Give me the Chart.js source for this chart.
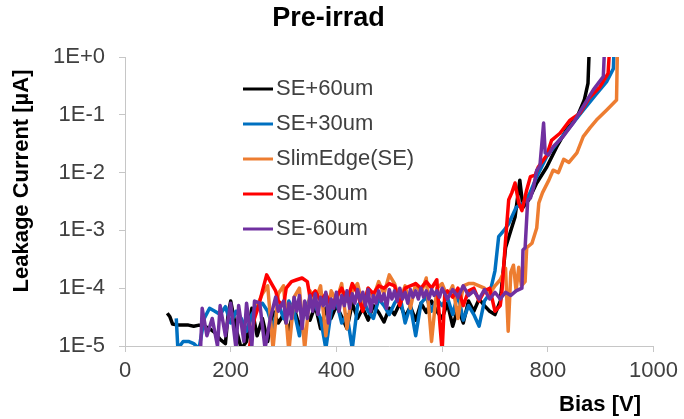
<!DOCTYPE html>
<html lang="en">
<head>
    <meta charset="UTF-8">
    <script src="https://cdn.jsdelivr.net/npm/chart.js"></script>
    <title>Pre-irrad</title>
    <style>
        body { margin: 0; background: #fff; }
    </style>
</head>
<body>
    <canvas id="myChart" width="684" height="419"></canvas>
    <script>
        // [bias V, leakage current uA]
        const seP60 = [[80,3.7e-5],[85,3.2e-5],[90,2.4e-5],[100,2.3e-5],[110,2.3e-5],[120,2.3e-5],[130,2.2e-5],[140,2.3e-5],[150,2.2e-5],[160,2.0e-5],[170,1.7e-5],[180,1.3e-5],[190,1.1e-5],[195,3.5e-5],[200,6.0e-5],[210,2.0e-5],[220,9e-6],[230,1.2e-5],[240,4.5e-5],[250,1.5e-5],[260,3.0e-5],[270,1.2e-5],[280,4.0e-5],[290,2.5e-5],[300,3.5e-5],[310,1.8e-5],[320,4.5e-5],[330,2.2e-5],[340,4.0e-5],[350,2.8e-5],[360,5.0e-5],[370,2.0e-5],[380,4.5e-5],[390,3.0e-5],[400,5.0e-5],[410,3.2e-5],[420,2.0e-5],[430,5.5e-5],[440,3.0e-5],[450,4.5e-5],[460,2.8e-5],[470,5.0e-5],[480,3.8e-5],[490,2.6e-5],[500,4.5e-5],[510,3.5e-5],[520,5.5e-5],[530,3.2e-5],[540,4.8e-5],[550,2.8e-5],[560,5.5e-5],[570,3.8e-5],[580,6.0e-5],[590,4.0e-5],[600,3.0e-5],[610,5.5e-5],[620,2.2e-5],[630,4.5e-5],[640,2.5e-5],[650,6.0e-5],[660,4.0e-5],[670,6.5e-5],[680,5.0e-5],[690,4.0e-5],[700,3.5e-5],[710,6.0e-5],[720,5.0e-4],[730,1.0e-3],[738,1.7e-3],[747,7.4e-3],[753,2.5e-3],[764,3.4e-3],[779,6.6e-3],[798,1.25e-2],[817,2.8e-2],[835,5.5e-2],[855,9.0e-2],[869,1.8e-1],[876,3.5e-1],[879,2.0]];
        const seP30 = [[97,3.0e-5],[100,9e-6],[110,1.2e-5],[120,1.2e-5],[130,1.1e-5],[140,9e-6],[150,3.0e-5],[160,4.5e-5],[170,4.0e-5],[180,3.5e-5],[190,4.8e-5],[200,2.5e-5],[210,4.0e-5],[220,3.0e-5],[230,1.8e-5],[240,3.5e-5],[250,5.0e-5],[260,5.5e-5],[270,4.0e-5],[280,2.0e-5],[290,5.5e-5],[300,3.0e-5],[310,6.0e-5],[320,4.0e-5],[330,1.5e-5],[340,4.5e-5],[350,6.5e-5],[360,5.0e-5],[370,3.0e-5],[380,9e-6],[390,4.0e-5],[400,6.0e-5],[410,2.5e-5],[420,3.5e-5],[430,9e-6],[440,5.0e-5],[450,6.5e-5],[460,4.0e-5],[470,3.0e-5],[480,6.5e-5],[490,5.0e-5],[500,3.5e-5],[510,5.5e-5],[520,7.5e-5],[530,2.5e-5],[540,5.0e-5],[550,1.5e-5],[560,5.5e-5],[570,7.0e-5],[580,4.0e-5],[590,6.5e-5],[600,5.0e-5],[610,7.0e-5],[620,3.5e-5],[630,8.0e-5],[640,2.8e-5],[650,5.0e-5],[660,3.5e-5],[670,2.2e-5],[680,6.0e-5],[690,8.0e-5],[700,2.0e-4],[707,7.8e-4],[717,1.0e-3],[726,1.3e-3],[740,2.5e-3],[754,3.0e-3],[766,4.4e-3],[779,8.5e-3],[798,1.9e-2],[817,3.2e-2],[842,6.2e-2],[867,1.2e-1],[892,2.3e-1],[911,3.7e-1],[924,6.3e-1],[926,2.0]];
        const seBase = [[250,5.0e-5],[260,8.0e-5],[270,1.1e-4],[280,9e-6],[290,8.0e-5],[300,1.1e-4],[310,8e-6],[320,7.0e-5],[330,1.0e-4],[340,9e-6],[350,9.0e-5],[360,6.0e-5],[370,1.1e-4],[380,1.5e-5],[390,9.0e-5],[400,6.0e-5],[410,1.2e-4],[420,2.0e-5],[430,9.0e-5],[440,1.2e-4],[450,5.0e-5],[460,1.0e-4],[470,7.0e-5],[480,1.3e-4],[490,8.0e-5],[500,1.7e-4],[510,1.2e-4],[520,6.0e-5],[530,1.1e-4],[540,4.5e-5],[550,1.2e-4],[560,8.0e-5],[570,1.5e-4],[580,1.2e-5],[590,1.0e-4],[600,1.2e-4],[610,7.0e-5],[620,1.1e-4],[630,3.0e-5],[640,1.1e-4],[650,1.2e-4],[660,1.2e-4],[670,1.1e-4],[680,1.0e-4],[690,8.0e-5],[700,1.1e-4],[710,1.4e-4],[720,2.2e-4],[725,1.8e-5],[730,1.9e-4],[735,2.5e-4],[740,9.0e-5],[745,2.3e-4],[750,1.1e-4],[757,1.3e-4],[760,5.0e-4],[770,6.0e-4],[779,1.1e-3],[783,3.0e-3],[790,4.5e-3],[802,7.4e-3],[810,1.1e-2],[820,1.0e-2],[830,1.7e-2],[840,1.5e-2],[855,2.2e-2],[867,4.2e-2],[880,6.0e-2],[892,8.1e-2],[911,1.2e-1],[930,1.8e-1],[932,2.0]];
        const seM30 = [[234,8e-6],[245,3.0e-5],[253,5.0e-5],[260,9.0e-5],[268,1.7e-4],[275,1.3e-4],[285,9.0e-5],[290,6.0e-5],[300,5.0e-5],[305,1.0e-4],[315,1.3e-4],[325,1.4e-4],[335,1.5e-4],[345,1.3e-4],[350,7.0e-5],[360,9.0e-5],[370,6.0e-5],[380,8.0e-5],[390,5.0e-5],[400,7.0e-5],[410,1.0e-4],[420,6.0e-5],[430,1.2e-4],[440,8.0e-5],[450,4.0e-5],[460,1.0e-4],[470,8.0e-5],[480,1.1e-4],[490,1.0e-4],[500,1.2e-4],[510,1.1e-4],[520,5.0e-5],[530,1.0e-4],[540,1.1e-4],[550,1.2e-4],[560,1.0e-4],[570,1.3e-4],[580,1.0e-4],[590,1.4e-4],[595,3.0e-5],[600,8e-6],[605,8.0e-5],[610,9.0e-5],[620,7.0e-5],[630,1.0e-4],[640,5.0e-5],[650,9.0e-5],[660,1.0e-4],[670,6.0e-5],[680,9.0e-5],[690,1.0e-4],[700,4.0e-5],[710,5.0e-5],[713,8.3e-5],[719,5.1e-4],[726,3.4e-3],[732,4.5e-3],[738,6.6e-3],[745,3.0e-3],[751,2.2e-3],[760,5.0e-3],[767,8.5e-3],[776,9.0e-3],[782,1.25e-2],[798,2.0e-2],[807,3.6e-2],[823,4.8e-2],[842,8.1e-2],[861,1.07e-1],[879,2.0e-1],[898,3.0e-1],[914,5.2e-1],[918,2.0]];
        const seM60 = [[143,9e-6],[146,4.5e-5],[155,1.5e-5],[165,3.0e-5],[175,1.0e-5],[180,5.0e-5],[190,1.5e-5],[200,5.5e-5],[210,9e-6],[215,5.0e-5],[225,1.2e-5],[230,5.5e-5],[240,1.0e-5],[245,6.0e-5],[255,5.5e-5],[265,9e-6],[275,3.0e-5],[285,7.0e-5],[290,4.0e-5],[300,6.0e-5],[305,2.5e-5],[310,5.5e-5],[315,3.0e-5],[320,7.0e-5],[325,4.0e-5],[330,7.5e-5],[335,2.0e-5],[340,6.0e-5],[345,3.0e-5],[350,7.5e-5],[355,4.0e-5],[360,8.0e-5],[365,3.5e-5],[370,7.0e-5],[375,5.0e-5],[380,8.5e-5],[385,2.5e-5],[390,6.5e-5],[395,4.5e-5],[400,8.5e-5],[405,4.0e-5],[410,7.5e-5],[415,5.0e-5],[420,9.0e-5],[425,4.5e-5],[430,8.0e-5],[435,5.5e-5],[440,9.5e-5],[445,6.0e-5],[450,8.5e-5],[455,5.0e-5],[460,9.5e-5],[465,4.0e-5],[470,7.5e-5],[475,5.5e-5],[480,9.0e-5],[485,6.0e-5],[490,8.0e-5],[495,4.5e-5],[500,9.5e-5],[505,6.5e-5],[510,9.0e-5],[515,6.0e-5],[520,1.0e-4],[525,6.5e-5],[530,8.5e-5],[535,5.5e-5],[540,9.5e-5],[545,7.0e-5],[550,9.0e-5],[555,6.5e-5],[560,1.0e-4],[565,7.0e-5],[570,9.0e-5],[575,6.5e-5],[580,9.5e-5],[585,7.5e-5],[590,9.0e-5],[595,7.0e-5],[600,1.0e-4],[610,6.5e-5],[620,9.5e-5],[630,7.0e-5],[640,1.1e-4],[650,7.5e-5],[660,9.0e-5],[670,6.5e-5],[680,9.5e-5],[690,6.5e-5],[700,8.5e-5],[710,6.5e-5],[720,8.5e-5],[730,7.5e-5],[740,9.0e-5],[751,1.0e-4],[753,4.6e-4],[757,5.0e-4],[762,3.4e-3],[767,3.6e-3],[773,5.6e-3],[779,1.1e-2],[785,1.3e-2],[792,7.2e-2],[795,2.2e-2],[801,2.0e-2],[810,2.8e-2],[829,4.2e-2],[848,7.2e-2],[867,1.4e-1],[886,2.7e-1],[905,4.6e-1],[908,2.0]];

        const seriesNames = ['SE+60um', 'SE+30um', 'SlimEdge(SE)', 'SE-30um', 'SE-60um'];
        const seriesData = [seP60, seP30, seBase, seM30, seM60];
        const seriesColors = ['#000000', '#0070C0', '#ED7D31', '#FF0000', '#7030A0'];

        const xTickValues = [0, 200, 400, 600, 800, 1000];
        const xTickLabels = ['0', '200', '400', '600', '800', '1000'];
        const yTickValues = [1e-5, 1e-4, 1e-3, 1e-2, 1e-1, 1];
        const yTickLabels = ['1E-5', '1E-4', '1E-3', '1E-2', '1E-1', '1E+0'];

        const FONT = '"Liberation Sans", Arial, sans-serif';
        const axisGray = '#c6c6c6';
        const textGray = '#404040';

        // legend + axis titles drawn at fixed spots, like the excel layout
        const overlay = {
            id: 'overlay',
            afterDraw(chart) {
                const ctx = chart.ctx;
                ctx.save();
                ctx.textBaseline = 'middle';
                chart.data.datasets.forEach(function(ds, i){
                    let y = 89 + i * 35;
                    ctx.strokeStyle = ds.borderColor;
                    ctx.lineWidth = 3;
                    ctx.beginPath();
                    ctx.moveTo(243, y);
                    ctx.lineTo(273, y);
                    ctx.stroke();
                    ctx.fillStyle = textGray;
                    ctx.font = '22px ' + FONT;
                    ctx.textAlign = 'left';
                    ctx.fillText(ds.label, 276, y);
                });
                ctx.fillStyle = '#000';
                ctx.font = 'bold 22px ' + FONT;
                ctx.textAlign = 'center';
                ctx.fillText('Bias [V]', 600, 405);
                ctx.translate(22, 181);
                ctx.rotate(-Math.PI / 2);
                ctx.fillText('Leakage Current [µA]', 0, 0);
                ctx.restore();
            }
        };

        let ctx = document.getElementById('myChart');
        let configs = {
            type: 'scatter'
            ,data : {
                datasets : seriesNames.map(function(name, i){
                    return {
                        label : name
                        ,data : seriesData[i].map(p => ({x: p[0], y: p[1]}))
                        ,borderColor : seriesColors[i]
                        ,backgroundColor : seriesColors[i]
                        ,showLine : true
                        ,borderWidth : 3.5
                        ,pointRadius : 0
                        ,order : seriesNames.length - i   // last series drawn on top
                    };
                })
            }
            ,options : {
                responsive : false
                ,animation : false
                ,devicePixelRatio : 1
                ,layout : { padding : { left: 0, right: 27, top: 0, bottom: 0 } }
                ,elements : { line : { tension : 0, borderJoinStyle : 'round' } }
                ,plugins : {
                    legend : { display : false }
                    ,tooltip : { enabled : false }
                    ,title : {
                        display : true
                        ,text : 'Pre-irrad'
                        ,color : '#000'
                        ,font : { family: FONT, size: 27, weight: 'bold', lineHeight: 1.2 }
                        ,padding : { top: 2, bottom: 22.6 }
                    }
                }
                ,scales : {
                    x : {
                        type : 'linear'
                        ,min : 0
                        ,max : 1000
                        ,afterBuildTicks : s => { s.ticks = xTickValues.map(v => ({value: v})); }
                        ,afterFit : s => { s.height = 73; }
                        ,ticks : {
                            callback : (v, i) => xTickLabels[i]
                            ,font : { family: FONT, size: 22 }
                            ,color : textGray
                            ,padding : 6
                            ,maxRotation : 0
                        }
                        ,grid : { drawOnChartArea : false, tickLength : 6, color : axisGray }
                        ,border : { color : axisGray, width : 1 }
                    }
                    ,y : {
                        type : 'logarithmic'
                        ,min : 1e-5
                        ,max : 1
                        ,afterBuildTicks : s => { s.ticks = yTickValues.map(v => ({value: v})); }
                        ,afterFit : s => { s.width = 125; }
                        ,ticks : {
                            callback : (v, i) => yTickLabels[i]
                            ,font : { family: FONT, size: 22 }
                            ,color : textGray
                            ,padding : 14
                        }
                        ,grid : { drawOnChartArea : false, tickLength : 6, color : axisGray }
                        ,border : { color : axisGray, width : 1 }
                    }
                }
            }
            ,plugins : [overlay]
        };
        let myChart = new Chart(ctx, configs);
    </script>
</body>
</html>
